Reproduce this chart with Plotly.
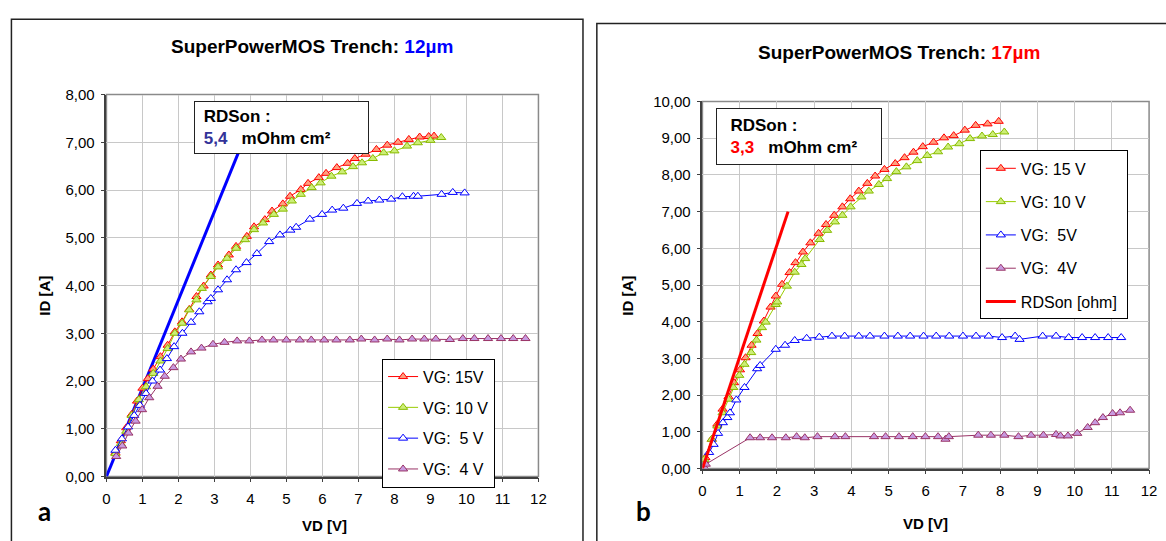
import plotly.graph_objects as go

# ---------------- data: panel a (12 µm trench) ----------------
a_vg15_x = [0.25, 0.4, 0.55, 0.7, 0.85, 1.0, 1.15, 1.3, 1.5, 1.7, 1.9, 2.1, 2.3, 2.5, 2.7, 2.9, 3.1, 3.4, 3.6, 3.9,
            4.1, 4.4, 4.6, 4.9, 5.1, 5.4, 5.6, 5.9, 6.1, 6.4, 6.7, 6.9, 7.2, 7.5, 7.8, 8.1, 8.4, 8.7, 8.95, 9.1]
a_vg15_y = [0.50, 0.75, 1.02, 1.30, 1.58, 1.85, 2.05, 2.25, 2.51, 2.75, 3.03, 3.24, 3.50, 3.77, 3.99, 4.22, 4.43, 4.64, 4.82, 5.03,
            5.23, 5.38, 5.56, 5.71, 5.87, 6.01, 6.14, 6.26, 6.35, 6.47, 6.56, 6.66, 6.75, 6.85, 6.94, 7.00, 7.06, 7.11, 7.12, 7.13]
a_vg10_x = [0.25, 0.4, 0.55, 0.7, 0.9, 1.1, 1.3, 1.5, 1.7, 1.9, 2.1, 2.3, 2.5, 2.65, 2.9, 3.1, 3.35, 3.6, 3.85, 4.1,
            4.35, 4.65, 4.9, 5.15, 5.4, 5.7, 5.95, 6.25, 6.55, 6.85, 7.1, 7.4, 7.7, 8.0, 8.35, 8.65, 9.0, 9.3]
a_vg10_y = [0.48, 0.69, 0.95, 1.28, 1.61, 1.88, 2.16, 2.42, 2.68, 3.00, 3.21, 3.49, 3.70, 3.94, 4.19, 4.39, 4.57, 4.78, 4.96, 5.17,
            5.31, 5.49, 5.60, 5.77, 5.91, 6.05, 6.15, 6.29, 6.38, 6.49, 6.57, 6.66, 6.78, 6.82, 6.92, 6.99, 7.04, 7.10]
a_vg5_x = [0.25, 0.43, 0.6, 0.77, 0.93, 1.1, 1.28, 1.49, 1.68, 1.88, 2.11, 2.35, 2.58, 2.81, 2.9, 3.1, 3.35, 3.6, 3.89, 4.18,
           4.52, 4.82, 5.11, 5.27, 5.65, 5.99, 6.27, 6.58, 6.96, 7.27, 7.58, 7.91, 8.22, 8.53, 8.65, 9.31, 9.62, 9.95]
a_vg5_y = [0.55, 0.79, 1.04, 1.28, 1.49, 1.74, 2.00, 2.23, 2.47, 2.72, 3.00, 3.23, 3.45, 3.66, 3.73, 3.91, 4.12, 4.33, 4.48, 4.67,
           4.92, 5.06, 5.16, 5.22, 5.39, 5.49, 5.58, 5.62, 5.72, 5.77, 5.79, 5.81, 5.86, 5.87, 5.87, 5.91, 5.95, 5.94]
a_vg4_x = [0.27, 0.44, 0.61, 0.81, 0.99, 1.19, 1.42, 1.62, 1.86, 2.07, 2.35, 2.64, 2.96, 3.28, 3.63, 3.97, 4.32, 4.64, 5.0, 5.37,
           5.69, 6.05, 6.39, 6.76, 7.08, 7.45, 7.8, 8.14, 8.49, 8.83, 9.15, 9.54, 9.9, 10.22, 10.6, 10.96, 11.3, 11.64]
a_vg4_y = [0.42, 0.64, 0.91, 1.16, 1.40, 1.65, 1.89, 2.10, 2.28, 2.46, 2.61, 2.69, 2.77, 2.81, 2.84, 2.84, 2.86, 2.86, 2.86, 2.86,
           2.86, 2.86, 2.86, 2.86, 2.88, 2.86, 2.88, 2.86, 2.88, 2.88, 2.88, 2.87, 2.89, 2.89, 2.89, 2.89, 2.89, 2.89]
a_rds_x = [0, 4.0]
a_rds_y = [0, 7.4]

# ---------------- data: panel b (17 µm trench) ----------------
b_vg15_x = [0.08, 0.25, 0.40, 0.54, 0.70, 0.85, 1.01, 1.16, 1.32, 1.48, 1.65, 1.83, 1.97, 2.14, 2.34, 2.50, 2.70, 2.90, 3.12, 3.32,
            3.54, 3.76, 3.97, 4.20, 4.43, 4.64, 4.89, 5.18, 5.43, 5.67, 5.92, 6.21, 6.49, 6.75, 7.05, 7.34, 7.66, 7.96]
b_vg15_y = [0.30, 0.80, 1.21, 1.62, 1.96, 2.34, 2.69, 3.02, 3.36, 3.68, 4.02, 4.40, 4.70, 5.02, 5.34, 5.61, 5.90, 6.15, 6.41, 6.65,
            6.90, 7.13, 7.35, 7.56, 7.77, 7.97, 8.15, 8.31, 8.47, 8.62, 8.77, 8.89, 9.01, 9.07, 9.22, 9.35, 9.39, 9.46]
b_vg10_x = [0.05, 0.25, 0.40, 0.54, 0.70, 0.83, 0.99, 1.13, 1.31, 1.45, 1.60, 1.70, 1.97, 2.01, 2.27, 2.48, 2.66, 2.76, 3.15, 3.35,
            3.56, 3.76, 3.98, 4.27, 4.47, 4.74, 4.96, 5.21, 5.48, 5.77, 6.04, 6.33, 6.60, 6.90, 7.19, 7.51, 7.80, 8.11]
b_vg10_y = [0.25, 0.80, 1.16, 1.52, 1.89, 2.21, 2.54, 2.84, 3.16, 3.50, 3.84, 3.99, 4.47, 4.54, 4.97, 5.35, 5.56, 5.72, 6.24, 6.49,
            6.72, 6.90, 7.13, 7.40, 7.56, 7.74, 7.90, 8.09, 8.22, 8.39, 8.53, 8.63, 8.76, 8.85, 8.99, 9.06, 9.10, 9.17]
b_vg5_x = [0.18, 0.30, 0.42, 0.55, 0.67, 0.74, 0.91, 1.13, 1.47, 1.55, 1.97, 2.22, 2.48, 2.80, 3.14, 3.48, 3.82, 4.20, 4.50, 4.89,
           5.25, 5.58, 5.94, 6.28, 6.63, 7.00, 7.35, 7.69, 8.05, 8.40, 8.52, 9.14, 9.50, 9.84, 10.20, 10.55, 10.90, 11.25]
b_vg5_y = [0.44, 0.66, 0.96, 1.25, 1.39, 1.52, 1.87, 2.21, 2.72, 2.81, 3.25, 3.36, 3.49, 3.55, 3.58, 3.61, 3.61, 3.61, 3.61, 3.61,
           3.61, 3.61, 3.61, 3.61, 3.61, 3.61, 3.61, 3.61, 3.57, 3.61, 3.52, 3.61, 3.61, 3.57, 3.57, 3.57, 3.57, 3.57]
b_vg4_x = [0.05, 0.09, 1.28, 1.55, 1.87, 2.24, 2.53, 2.75, 3.09, 3.56, 3.84, 4.61, 4.92, 5.28, 5.65, 5.99, 6.33, 6.53, 6.62, 7.41,
           7.75, 8.11, 8.49, 8.83, 9.16, 9.50, 9.62, 9.82, 10.07, 10.35, 10.55, 10.76, 11.02, 11.22, 11.49]
b_vg4_y = [0.03, 0.12, 0.84, 0.84, 0.84, 0.84, 0.87, 0.84, 0.87, 0.87, 0.87, 0.87, 0.87, 0.87, 0.87, 0.87, 0.87, 0.80, 0.87, 0.91,
           0.91, 0.91, 0.87, 0.91, 0.91, 0.93, 0.89, 0.89, 0.96, 1.12, 1.25, 1.39, 1.50, 1.52, 1.59]
b_rds_x = [0, 2.3]
b_rds_y = [0, 7.0]

# ---------------- labels ----------------
a_names = ["VG: 15V", "VG: 10 V", "VG:\u00a0 5 V", "VG:\u00a0 4 V"]
b_names = ["VG: 15 V", "VG: 10 V", "VG:\u00a0 5V", "VG:\u00a0 4V", "RDSon [ohm]\u00a0"]
x_ticks = list(range(0, 13))

W, H = 1166, 541
FONT = "Liberation Sans, Arial, sans-serif"


def px(x):
    return x / W


def py(y):
    return 1 - y / H


styles = [
    dict(line="#FF0000", fill="#FF9F7F", edge="#FF0000"),
    dict(line="#99CC00", fill="#CCEE77", edge="#88BB00"),
    dict(line="#0000FF", fill="#FFFFFF", edge="#0000FF"),
    dict(line="#993366", fill="#C89AE0", edge="#993366"),
]

fig = go.Figure()


def add_series(xs, ys, name, st, xa, ya, leg, grp):
    fig.add_trace(go.Scatter(
        x=xs, y=ys, name=name, mode="lines+markers", xaxis=xa, yaxis=ya,
        legend=leg, legendgroup=grp,
        line=dict(color=st["line"], width=1),
        marker=dict(symbol="triangle-up", size=8, color=st["fill"],
                    line=dict(color=st["edge"], width=1)),
    ))


a_series = [(a_vg15_x, a_vg15_y), (a_vg10_x, a_vg10_y), (a_vg5_x, a_vg5_y), (a_vg4_x, a_vg4_y)]
b_series = [(b_vg15_x, b_vg15_y), (b_vg10_x, b_vg10_y), (b_vg5_x, b_vg5_y), (b_vg4_x, b_vg4_y)]

# RDSon line panel a (not in legend)
fig.add_trace(go.Scatter(x=a_rds_x, y=a_rds_y, mode="lines", showlegend=False,
                         line=dict(color="#0000FF", width=3), xaxis="x", yaxis="y"))
for i, (xs, ys) in enumerate(a_series):
    add_series(xs, ys, a_names[i], styles[i], "x", "y", "legend", "a%d" % i)

for i, (xs, ys) in enumerate(b_series):
    add_series(xs, ys, b_names[i], styles[i], "x2", "y2", "legend2", "b%d" % i)
fig.add_trace(go.Scatter(x=b_rds_x, y=b_rds_y, mode="lines", name=b_names[4],
                         legend="legend2", legendgroup="b4",
                         line=dict(color="#FF0000", width=3), xaxis="x2", yaxis="y2"))

grid = "#C8C8C8"
axis_common = dict(showgrid=True, gridcolor=grid, gridwidth=1, zeroline=False,
                   showline=True, linecolor="#404040", linewidth=1.5,
                   ticks="outside", ticklen=4, tickcolor="#404040",
                   tickfont=dict(family=FONT, size=15, color="#000000"))

fig.update_layout(
    width=W, height=H, margin=dict(l=0, r=0, t=0, b=0),
    paper_bgcolor="white", plot_bgcolor="white",
    separators=",.",
    font=dict(family=FONT, color="#000000"),
    xaxis=dict(domain=[px(103.5), px(540)], range=[0, 12], tickvals=x_ticks, anchor="y",
               ticklabelstandoff=4, **axis_common),
    yaxis=dict(domain=[py(482.7), py(88.3)], range=[0, 8], dtick=1, tickformat=".2f", anchor="x",
               ticklabelstandoff=3, **axis_common),
    xaxis2=dict(domain=[px(705.7), px(1157)], range=[0, 12], tickvals=x_ticks, anchor="y2",
                ticklabelstandoff=4, **axis_common),
    yaxis2=dict(domain=[py(474.5), py(95.5)], range=[0, 10], dtick=1, tickformat=".2f", anchor="x2",
                ticklabelstandoff=3, **axis_common),
    legend=dict(x=px(382), y=py(361), xanchor="left", yanchor="top",
                bgcolor="white", bordercolor="#000000", borderwidth=1,
                font=dict(family=FONT, size=16), tracegroupgap=7),
    legend2=dict(x=px(986), y=py(146), xanchor="left", yanchor="top",
                 bgcolor="white", bordercolor="#000000", borderwidth=1,
                 font=dict(family=FONT, size=16), tracegroupgap=9.5),
)

# plot-area frames (gray top/right) and panel borders
shapes = [
    dict(type="rect", xref="x domain", yref="y domain", x0=0, x1=1, y0=0, y1=1,
         line=dict(color="#8A8A8A", width=1.5), layer="below"),
    dict(type="rect", xref="x2 domain", yref="y2 domain", x0=0, x1=1, y0=0, y1=1,
         line=dict(color="#8A8A8A", width=1.5), layer="below"),
    dict(type="rect", xref="paper", yref="paper", x0=px(7.5), x1=px(585), y0=py(560), y1=py(10.5),
         line=dict(color="#222222", width=1.5)),
    dict(type="rect", xref="paper", yref="paper", x0=px(599), x1=px(1190), y0=py(560), y1=py(15),
         line=dict(color="#222222", width=1.5)),
]
fig.update_layout(shapes=shapes)

ann = []
# titles
ann.append(dict(xref="paper", yref="paper", x=px(311), y=py(39), xanchor="center", yanchor="middle",
                showarrow=False, font=dict(family=FONT, size=19, color="#000000"),
                text="<b>SuperPowerMOS Trench: <span style='color:#0000FF'>12µm</span></b>"))
ann.append(dict(xref="paper", yref="paper", x=px(904), y=py(45), xanchor="center", yanchor="middle",
                showarrow=False, font=dict(family=FONT, size=19, color="#000000"),
                text="<b>SuperPowerMOS Trench: <span style='color:#FF0000'>17µm</span></b>"))
# RDSon boxes
ann.append(dict(xref="paper", yref="paper", x=px(192), y=py(95), xanchor="left", yanchor="top",
                showarrow=False, align="left", valign="middle", width=165, height=43,
                bgcolor="white", bordercolor="#222222", borderwidth=1, borderpad=4,
                font=dict(family=FONT, size=17, color="#000000"),
                text="<b>\u00a0RDSon :<br>\u00a0<span style='color:#333399'>5,4</span>\u00a0\u00a0 mOhm cm²</b>"))
ann.append(dict(xref="paper", yref="paper", x=px(719), y=py(101.7), xanchor="left", yanchor="top",
                showarrow=False, align="left", valign="middle", width=156, height=47,
                bgcolor="white", bordercolor="#222222", borderwidth=1, borderpad=4,
                font=dict(family=FONT, size=17, color="#000000"),
                text="<b>\u00a0\u00a0RDSon :<br>\u00a0\u00a0<span style='color:#FF0000'>3,3</span>\u00a0\u00a0 mOhm cm²</b>"))
# axis titles
for (x, y, t, ang) in [(41.5, 296, "<b>ID [A]</b>", -90), (630.5, 296, "<b>ID [A]</b>", -90),
                       (323.5, 533, "<b>VD [V]</b>", 0), (931, 531, "<b>VD [V]</b>", 0)]:
    ann.append(dict(xref="paper", yref="paper", x=px(x), y=py(y), xanchor="center", yanchor="middle",
                    showarrow=False, textangle=ang, font=dict(family=FONT, size=15, color="#000000"), text=t))
# panel letters
for (x, y, t) in [(41, 518, "<b>a</b>"), (646, 518, "<b>b</b>")]:
    ann.append(dict(xref="paper", yref="paper", x=px(x), y=py(y), xanchor="center", yanchor="middle",
                    showarrow=False, font=dict(family="Lato, Open Sans, sans-serif", size=26, color="#000000"), text=t))
fig.update_layout(annotations=ann)

fig.write_html("out.html")
